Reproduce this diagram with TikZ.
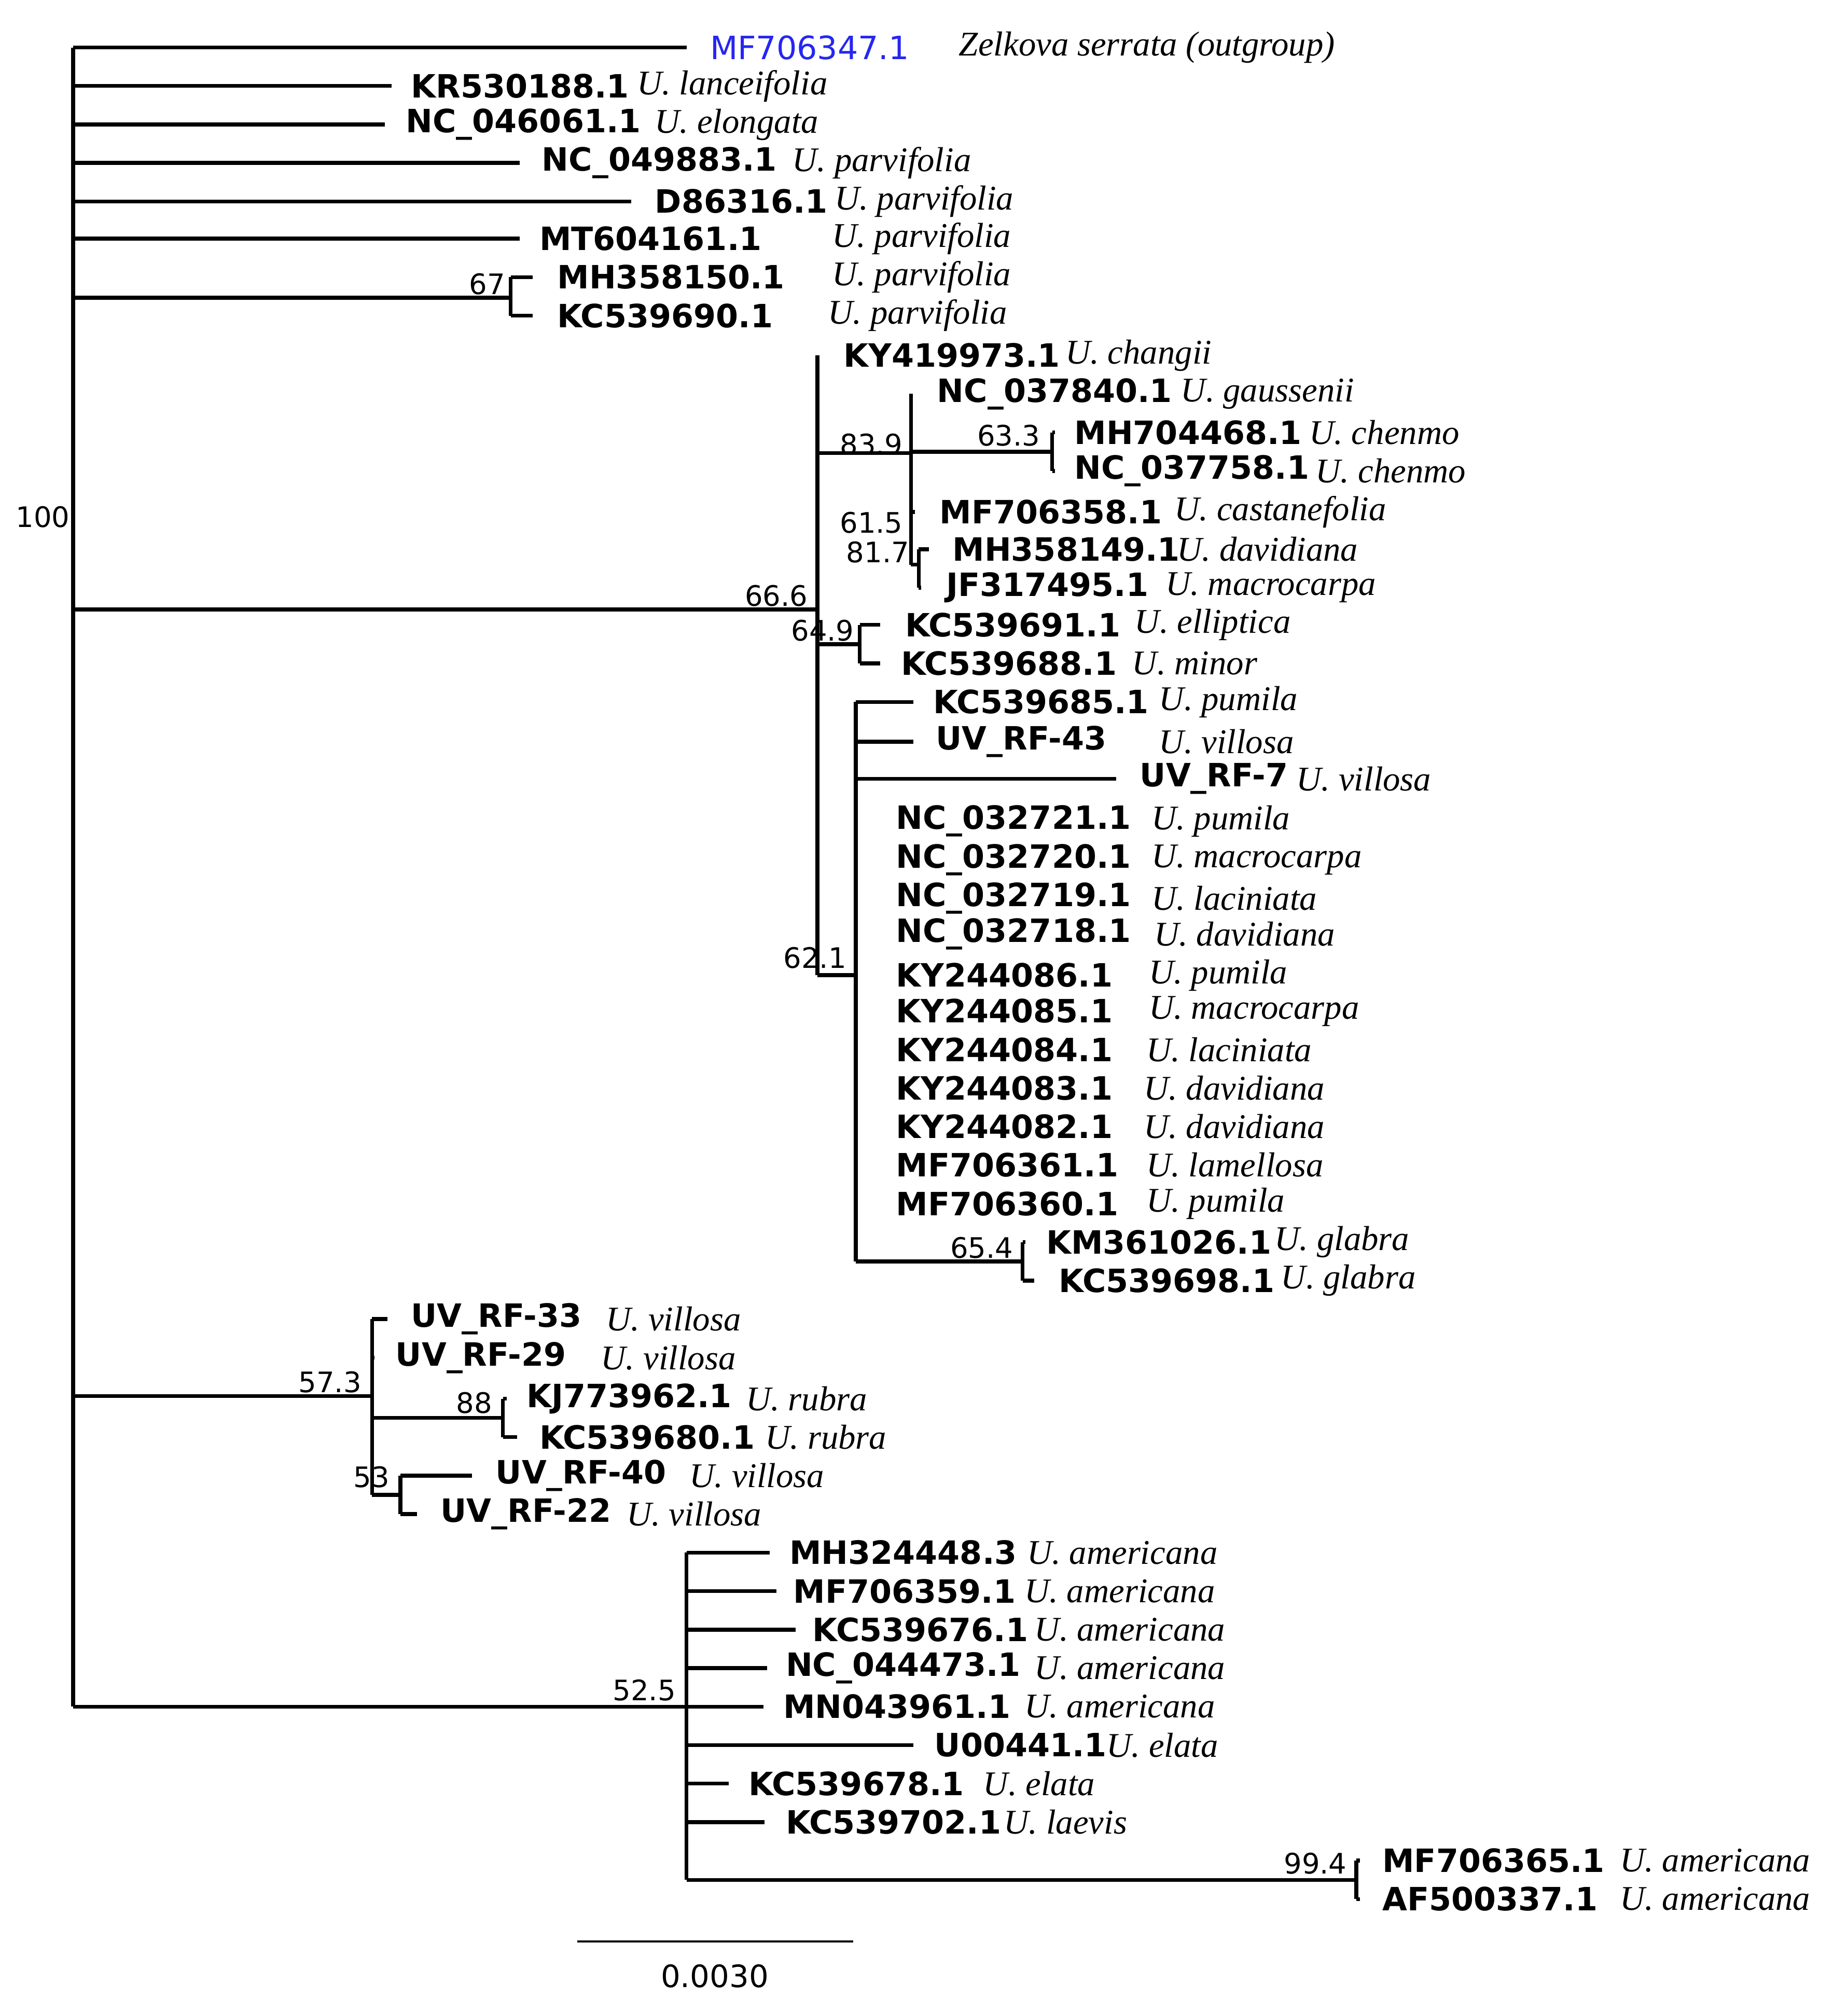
\documentclass[tikz,border=0pt]{standalone}
\usepackage{fontspec}
\setmainfont{Liberation Serif}
\newfontfamily\accfont{DejaVu Sans}
\begin{document}
\begin{tikzpicture}[x=0.5pt,y=-0.5pt,
  br/.style={line width=1.5pt},
  acc/.style={anchor=west,inner sep=0pt,font=\accfont\bfseries\fontsize{12.5}{14}\selectfont},
  sp/.style={anchor=west,inner sep=0pt,font=\itshape\fontsize{13.5}{15}\selectfont},
  bs/.style={anchor=south east,inner sep=1pt,font=\accfont\fontsize{11}{13}\selectfont}]
\useasboundingbox (0,0) rectangle (1440,1568);
\newcommand{\tip}[7]{% name, y, xstart, xend, accx, acc, spx, sp
  \coordinate (#1) at (#4,#2);
  \draw[br] (#3,#2) -- (#1);
  \node[acc] (#1a) at (#5,#2) {#6};
  \node[sp] (#1s) at (#7,#2) {\tipsp};}
\newcommand{\leaf}[8]{\def\tipsp{#8}\tip{#1}{#2}{#3}{#4}{#5}{#6}{#7}}
% root
\coordinate (root) at (57,37);
\draw[br] (57,37) -- (57,1330);
\node[anchor=west,inner sep=0pt,font=\accfont\fontsize{11}{13}\selectfont] (b100) at (12,403) {100};
\leaf{t1}{37}{57}{535}{553}{\textcolor[rgb]{0.15,0.15,0.95}{\mdseries MF706347.1}}{747}{Zelkova serrata (outgroup)}
\leaf{t2}{67}{57}{305}{320}{KR530188.1}{496}{U. lanceifolia}
\leaf{t3}{97}{57}{300}{316}{NC\_046061.1}{510}{U. elongata}
\leaf{t4}{127}{57}{405}{422}{NC\_049883.1}{617}{U. parvifolia}
\leaf{t5}{157}{57}{492}{510}{D86316.1}{650}{U. parvifolia}
\leaf{t6}{186}{57}{405}{420}{MT604161.1}{648}{U. parvifolia}
% 67 clade
\draw[br] (57,232) -- (398,232); \draw[br] (398,216) -- (398,246);
\node[bs] at (396,232) {67};
\leaf{t7}{216}{398}{415}{434}{MH358150.1}{648}{U. parvifolia}
\leaf{t8}{246}{398}{415}{434}{KC539690.1}{645}{U. parvifolia}
% big clade 66.6
\draw[br] (57,475) -- (637,475); \draw[br] (637,277) -- (637,760);
\node[bs] at (632,475) {66.6};
\leaf{t9}{277}{637}{637}{657}{KY419973.1}{830}{U. changii}
\draw[br] (637,353) -- (710,353); \draw[br] (710,307) -- (710,440);
\node[bs] at (706,357) {83.9};
\leaf{t10}{307}{710}{710}{730}{NC\_037840.1}{920}{U. gaussenii}
\draw[br] (710,352) -- (820,352); \draw[br] (820,337) -- (820,367);
\node[bs] at (813,350) {63.3};
\leaf{t11}{337}{820}{822}{837}{MH704468.1}{1020}{U. chenmo}
\leaf{t12}{367}{820}{822}{837}{NC\_037758.1}{1025}{U. chenmo}
\leaf{t13}{399}{710}{713}{732}{MF706358.1}{915}{U. castanefolia}
\draw[br] (710,440) -- (716,440); \draw[br] (716,428) -- (716,458);
\node[bs] at (706,418) {61.5};
\node[bs] at (711,441) {81.7};
\leaf{t14}{428}{716}{724}{742}{MH358149.1}{917}{U. davidiana}
\leaf{t15}{458}{716}{718}{737}{JF317495.1}{908}{U. macrocarpa}
\draw[br] (637,502) -- (670,502); \draw[br] (670,487) -- (670,517);
\node[bs] at (668,502) {64.9};
\leaf{t16}{487}{670}{686}{705}{KC539691.1}{884}{U. elliptica}
\leaf{t17}{517}{670}{686}{702}{KC539688.1}{882}{U. minor}
% 62.1
\draw[br] (637,760) -- (667,760); \draw[br] (667,547) -- (667,983);
\node[bs] at (662,757) {62.1};
\leaf{t18}{547}{667}{712}{727}{KC539685.1}{903}{U. pumila}
\leaf{t19}{578}{667}{712}{729}{UV\_RF-43}{903}{U. villosa}
\leaf{t20}{607}{667}{870}{888}{UV\_RF-7}{1010}{U. villosa}
\leaf{t21}{640}{667}{667}{698}{NC\_032721.1}{897}{U. pumila}
\leaf{t22}{670}{667}{667}{698}{NC\_032720.1}{897}{U. macrocarpa}
\leaf{t23}{700}{667}{667}{698}{NC\_032719.1}{897}{U. laciniata}
\leaf{t24}{728}{667}{667}{698}{NC\_032718.1}{899}{U. davidiana}
\leaf{t25}{760}{667}{667}{698}{KY244086.1}{895}{U. pumila}
\leaf{t26}{788}{667}{667}{698}{KY244085.1}{895}{U. macrocarpa}
\leaf{t27}{818}{667}{667}{698}{KY244084.1}{893}{U. laciniata}
\leaf{t28}{848}{667}{667}{698}{KY244083.1}{891}{U. davidiana}
\leaf{t29}{878}{667}{667}{698}{KY244082.1}{891}{U. davidiana}
\leaf{t30}{908}{667}{667}{698}{MF706361.1}{893}{U. lamellosa}
\leaf{t31}{938}{667}{667}{698}{MF706360.1}{893}{U. pumila}
\draw[br] (667,983) -- (797,983); \draw[br] (797,968) -- (797,998);
\node[bs] at (792,983) {65.4};
\leaf{t32}{968}{797}{799}{815}{KM361026.1}{993}{U. glabra}
\leaf{t33}{998}{797}{806}{825}{KC539698.1}{998}{U. glabra}
% 57.3
\draw[br] (57,1088) -- (290,1088); \draw[br] (290,1028) -- (290,1165);
\node[bs] at (284,1088) {57.3};
\leaf{t34}{1028}{290}{302}{320}{UV\_RF-33}{472}{U. villosa}
\leaf{t35}{1058}{290}{292}{308}{UV\_RF-29}{468}{U. villosa}
\draw[br] (290,1105) -- (392,1105); \draw[br] (392,1090) -- (392,1120);
\node[bs] at (386,1104) {88};
\leaf{t36}{1090}{392}{395}{410}{KJ773962.1}{581}{U. rubra}
\leaf{t37}{1120}{392}{403}{420}{KC539680.1}{596}{U. rubra}
\draw[br] (290,1165) -- (312,1165); \draw[br] (312,1150) -- (312,1180);
\node[bs] at (306,1162) {53};
\leaf{t38}{1150}{312}{368}{386}{UV\_RF-40}{537}{U. villosa}
\leaf{t39}{1180}{312}{325}{343}{UV\_RF-22}{488}{U. villosa}
% 52.5
\draw[br] (57,1330) -- (535,1330); \draw[br] (535,1210) -- (535,1465);
\node[bs] at (529,1328) {52.5};
\leaf{t40}{1210}{535}{600}{615}{MH324448.3}{800}{U. americana}
\leaf{t41}{1240}{535}{605}{618}{MF706359.1}{798}{U. americana}
\leaf{t42}{1270}{535}{620}{633}{KC539676.1}{806}{U. americana}
\leaf{t43}{1300}{535}{598}{612}{NC\_044473.1}{806}{U. americana}
\leaf{t44}{1330}{535}{595}{610}{MN043961.1}{798}{U. americana}
\leaf{t45}{1360}{535}{712}{728}{U00441.1}{862}{U. elata}
\leaf{t46}{1390}{535}{568}{583}{KC539678.1}{766}{U. elata}
\leaf{t47}{1420}{535}{596}{612}{KC539702.1}{782}{U. laevis}
\draw[br] (535,1465) -- (1057,1465); \draw[br] (1057,1450) -- (1057,1480);
\node[bs] at (1052,1463) {99.4};
\leaf{t48}{1450}{1057}{1060}{1077}{MF706365.1}{1262}{U. americana}
\leaf{t49}{1480}{1057}{1060}{1077}{AF500337.1}{1262}{U. americana}
% scale bar
\coordinate (sb1) at (450,1513); \coordinate (sb2) at (665,1513);
\draw[line width=1pt] (sb1) -- (sb2);
\node[font=\accfont\fontsize{12}{14}\selectfont] (sbl) at (557,1540) {0.0030};
\end{tikzpicture}
\end{document}
